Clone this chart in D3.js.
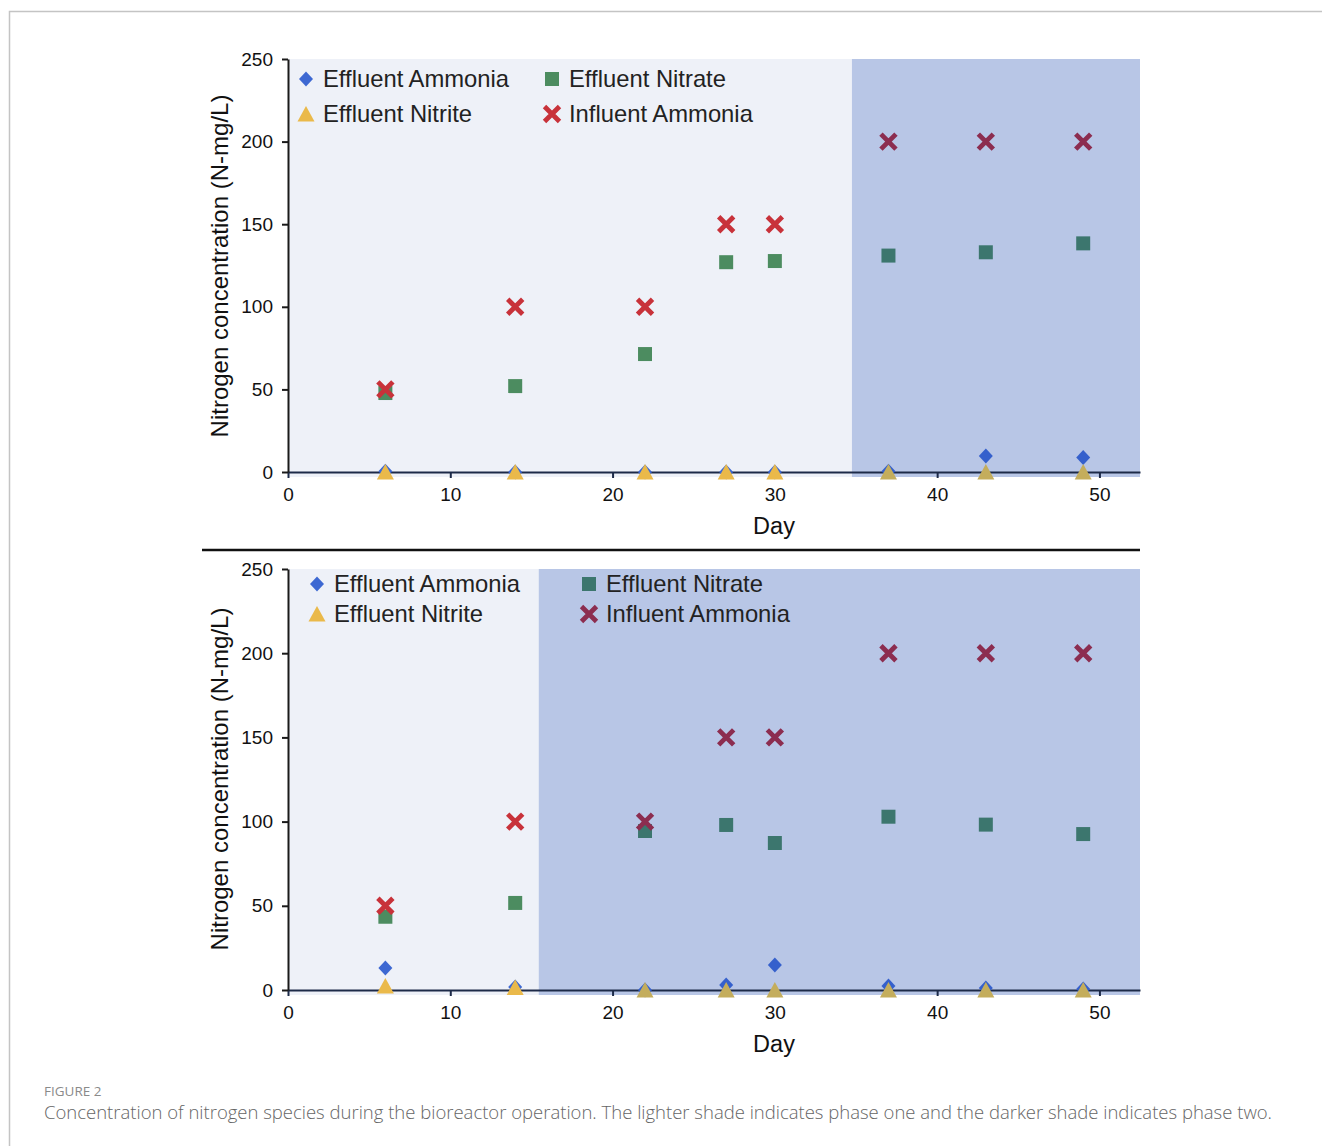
<!DOCTYPE html>
<html>
<head>
<meta charset="utf-8">
<script src="https://cdn.jsdelivr.net/npm/d3@7"></script>
<style>
  html, body { margin: 0; padding: 0; background: #ffffff; }
  svg { display: block; }
</style>
</head>
<body>
<svg id="chart" width="1322" height="1146"></svg>
<script>
// ---------- DATA ----------
const days = [6, 14, 22, 27, 30, 37, 43, 49];
const seriesNames = ["Effluent Ammonia", "Effluent Nitrate", "Effluent Nitrite", "Influent Ammonia"];

const topEffluentAmmonia = [0.5, 0, 0, 0, 0, 0.4, 9.7, 8.8];
const topEffluentNitrate = [47.8, 52, 71.4, 127, 127.7, 131, 133, 138.4];
const topEffluentNitrite = [0, 0, 0, 0, 0, 0, 0, 0];
const topInfluentAmmonia = [50, 100, 100, 150, 150, 200, 200, 200];

const bottomEffluentAmmonia = [13, 1.8, 0, 3, 14.8, 2.4, 1.2, 0.6];
const bottomEffluentNitrate = [43.5, 51.7, 94.4, 98, 87.3, 102.9, 98.2, 92.6];
const bottomEffluentNitrite = [2.4, 1.5, 0, 0, 0, 0, 0, 0];
const bottomInfluentAmmonia = [50, 100, 100, 150, 150, 200, 200, 200];

const topPhaseTwoStart = 34.75;
const bottomPhaseTwoStart = 15.45;

const xTicks = [0, 10, 20, 30, 40, 50];
const yTicks = [0, 50, 100, 150, 200, 250];

const xLabel = "Day";
const yLabel = "Nitrogen concentration (N-mg/L)";
const figureLabel = "FIGURE 2";
const captionText = "Concentration of nitrogen species during the bioreactor operation. The lighter shade indicates phase one and the darker shade indicates phase two.";

// ---------- STYLE ----------
const lightColors = { "Effluent Ammonia": "#3d68d2", "Effluent Nitrate": "#4c8c60", "Effluent Nitrite": "#eab94a", "Influent Ammonia": "#c8323a" };
const darkColors  = { "Effluent Ammonia": "#3560cc", "Effluent Nitrate": "#3c766e", "Effluent Nitrite": "#c4ad5c", "Influent Ammonia": "#8c2d50" };
const phaseOneFill = "#eef1f8";
const phaseTwoFill = "#b8c6e6";
const FONT = "'Liberation Sans', Arial, Helvetica, sans-serif";

const svg = d3.select("#chart");

// outer frame
svg.append("path")
  .attr("d", "M9.5,1146 L9.5,11.5 L1322,11.5")
  .attr("fill", "none").attr("stroke", "#c4c4c4").attr("stroke-width", 1.5);

function symbolPath(name) {
  if (name === "Effluent Ammonia") return "M0,-7.5 L7,0 L0,7.5 L-7,0 Z";
  if (name === "Effluent Nitrate") return "M-7,-7 L7,-7 L7,7 L-7,7 Z";
  if (name === "Effluent Nitrite") return "M0,-8 L8.5,7.5 L-8.5,7.5 Z";
  return null;
}

function drawMarker(g, name, cx, cy, color) {
  if (name === "Influent Ammonia") {
    g.append("path")
      .attr("d", "M-7.5,-7.5 L7.5,7.5 M7.5,-7.5 L-7.5,7.5")
      .attr("transform", `translate(${cx},${cy})`)
      .attr("stroke", color).attr("stroke-width", 4.8).attr("stroke-linecap", "butt")
      .attr("fill", "none");
  } else {
    g.append("path")
      .attr("d", symbolPath(name))
      .attr("transform", `translate(${cx},${cy})`)
      .attr("fill", color);
  }
}

function drawPanel(cfg) {
  const x = d3.scaleLinear().domain([0, 52.5]).range([288, 1140]);
  const y = d3.scaleLinear().domain([0, 250]).range([cfg.y0, cfg.y250]);
  const g = svg.append("g");
  const colorAt = (name, xv) => (xv >= cfg.phaseStart ? darkColors[name] : lightColors[name]);

  // backgrounds
  const top = y(250), bottom = y(0) + 5;
  g.append("rect").attr("x", x(0)).attr("y", top)
    .attr("width", x(cfg.phaseStart) - x(0)).attr("height", bottom - top).attr("fill", phaseOneFill);
  g.append("rect").attr("x", x(cfg.phaseStart)).attr("y", top)
    .attr("width", x(52.5) - x(cfg.phaseStart)).attr("height", bottom - top).attr("fill", phaseTwoFill);

  // axes
  const xAxis = g.append("g").attr("transform", `translate(0,${y(0)})`)
    .call(d3.axisBottom(x).tickValues(xTicks).tickSize(6).tickSizeOuter(0).tickPadding(10));
  xAxis.select(".domain").attr("stroke", "#1d2a48").attr("stroke-width", 2);
  xAxis.selectAll(".tick line").attr("stroke", "#1d2a48").attr("stroke-width", 2);
  xAxis.selectAll(".tick text").attr("font-family", FONT).attr("font-size", 19).attr("fill", "#111");

  const yAxis = g.append("g").attr("transform", `translate(${x(0)},0)`)
    .call(d3.axisLeft(y).tickValues(yTicks).tickSize(6).tickSizeOuter(0).tickPadding(9));
  yAxis.select(".domain").attr("stroke", "#1a1a1a").attr("stroke-width", 2);
  yAxis.selectAll(".tick line").attr("stroke", "#1a1a1a").attr("stroke-width", 2);
  yAxis.selectAll(".tick text").attr("font-family", FONT).attr("font-size", 19).attr("fill", "#111");

  // markers
  const marks = g.append("g");
  cfg.series.forEach((vals, si) => {
    const name = seriesNames[si];
    vals.forEach((v, i) => drawMarker(marks, name, x(days[i]), y(v), colorAt(name, days[i])));
  });

  // axis titles
  g.append("text").attr("x", 774).attr("y", y(0) + 62)
    .attr("text-anchor", "middle").attr("font-family", FONT).attr("font-size", 23.5)
    .attr("fill", "#111").text(xLabel);
  g.append("text")
    .attr("transform", `translate(228,${cfg.yLabelCenter}) rotate(-90)`)
    .attr("text-anchor", "middle").attr("font-family", FONT).attr("font-size", 24)
    .attr("fill", "#111").text(yLabel);

  // legend
  const leg = g.append("g");
  cfg.legend.forEach((item) => {
    const name = seriesNames[item.s];
    drawMarker(leg, name, item.mx, item.my, colorAt(name, x.invert(item.mx)));
    leg.append("text").attr("x", item.mx + 17).attr("y", item.my + 8)
      .attr("font-family", FONT).attr("font-size", 23.8).attr("fill", "#222").text(name);
  });
}

drawPanel({
  y0: 472, y250: 59, phaseStart: topPhaseTwoStart, yLabelCenter: 266,
  series: [topEffluentAmmonia, topEffluentNitrate, topEffluentNitrite, topInfluentAmmonia],
  legend: [
    { s: 0, mx: 306, my: 79 }, { s: 1, mx: 552, my: 79 },
    { s: 2, mx: 306, my: 114 }, { s: 3, mx: 552, my: 114 }
  ]
});

// separator
svg.append("line").attr("x1", 202).attr("x2", 1140).attr("y1", 550).attr("y2", 550)
  .attr("stroke", "#111").attr("stroke-width", 2.5);

drawPanel({
  y0: 990, y250: 569, phaseStart: bottomPhaseTwoStart, yLabelCenter: 779,
  series: [bottomEffluentAmmonia, bottomEffluentNitrate, bottomEffluentNitrite, bottomInfluentAmmonia],
  legend: [
    { s: 0, mx: 317, my: 584 }, { s: 1, mx: 589, my: 584 },
    { s: 2, mx: 317, my: 614 }, { s: 3, mx: 589, my: 614 }
  ]
});

// caption
svg.append("text").attr("x", 44).attr("y", 1096)
  .attr("font-family", "'Open Sans', sans-serif").attr("font-size", 13.5).attr("font-weight", 400)
  .attr("fill", "#8a8a8a").text(figureLabel);
svg.append("text").attr("x", 44).attr("y", 1119)
  .attr("font-family", "'Open Sans', sans-serif").attr("font-size", 18.5).attr("font-weight", 300)
  .attr("fill", "#666").attr("textLength", 1228).attr("lengthAdjust", "spacingAndGlyphs")
  .text(captionText);
</script>
</body>
</html>
